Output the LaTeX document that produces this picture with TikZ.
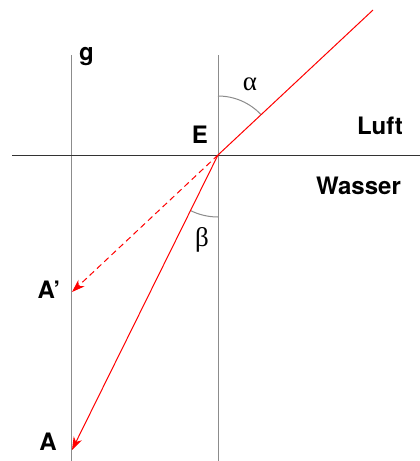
\documentclass[tikz,border=0pt]{standalone}
\usepackage{fontspec}
\newfontfamily\lblfont{TeX Gyre Heros}
\newfontfamily\grkfont{Liberation Serif}
\usetikzlibrary{arrows.meta}
\tikzset{
  lbl/.style={font=\lblfont\bfseries\fontsize{24}{28}\selectfont, inner sep=0pt, anchor=base},
  greek/.style={font=\grkfont\fontsize{27}{30}\selectfont, inner sep=0pt},
  guide/.style={draw=black!45, line width=1pt},
  surface/.style={draw=black!80, line width=1pt},
  ray/.style={draw=red, line width=1pt},
  tip/.style={-{Stealth[length=13pt,width=9pt,inset=4pt]}},
}
\begin{document}
\begin{tikzpicture}[x=1pt,y=-1pt]
\useasboundingbox (0,0) rectangle (420,461);
% coordinates
\coordinate (E) at (218,155);
\coordinate (S) at (373,10);
\coordinate (A) at (72,450);
\coordinate (Ap) at (72,292);
\coordinate (gtop) at (71,55);
\coordinate (gbot) at (71,461);
\coordinate (ntop) at (218,55);
\coordinate (nbot) at (218,461);
\coordinate (hl) at (12,155);
\coordinate (hr) at (420,155);
% lines
\draw[guide] (gtop) -- (gbot);
\draw[guide] (ntop) -- (nbot);
\draw[surface] (hl) -- (hr);
% arcs
\draw[guide] (218,96) arc[start angle=-90, end angle=-43.1, radius=59];
\draw[guide] (218,217) arc[start angle=90, end angle=116.3, radius=62];
% rays
\draw[ray] (S) -- (E);
\draw[ray,tip] (E) -- (A);
\draw[ray,tip,dash pattern=on 6pt off 4pt] (E) -- (Ap);
% labels
\node[lbl] (g) at (86.5,60) {g};
\node[lbl] (Elbl) at (200,143) {E};
\node[lbl] (luft) at (380,134) {Luft};
\node[lbl] (wasser) at (358.5,194) {Wasser};
\node[lbl] (Aplbl) at (49,298) {A’};
\node[lbl] (Albl) at (48,450) {A};
\node[greek] (alpha) at (250,84) {α};
\node[greek] (beta) at (202,240) {β};
\end{tikzpicture}
\end{document}
